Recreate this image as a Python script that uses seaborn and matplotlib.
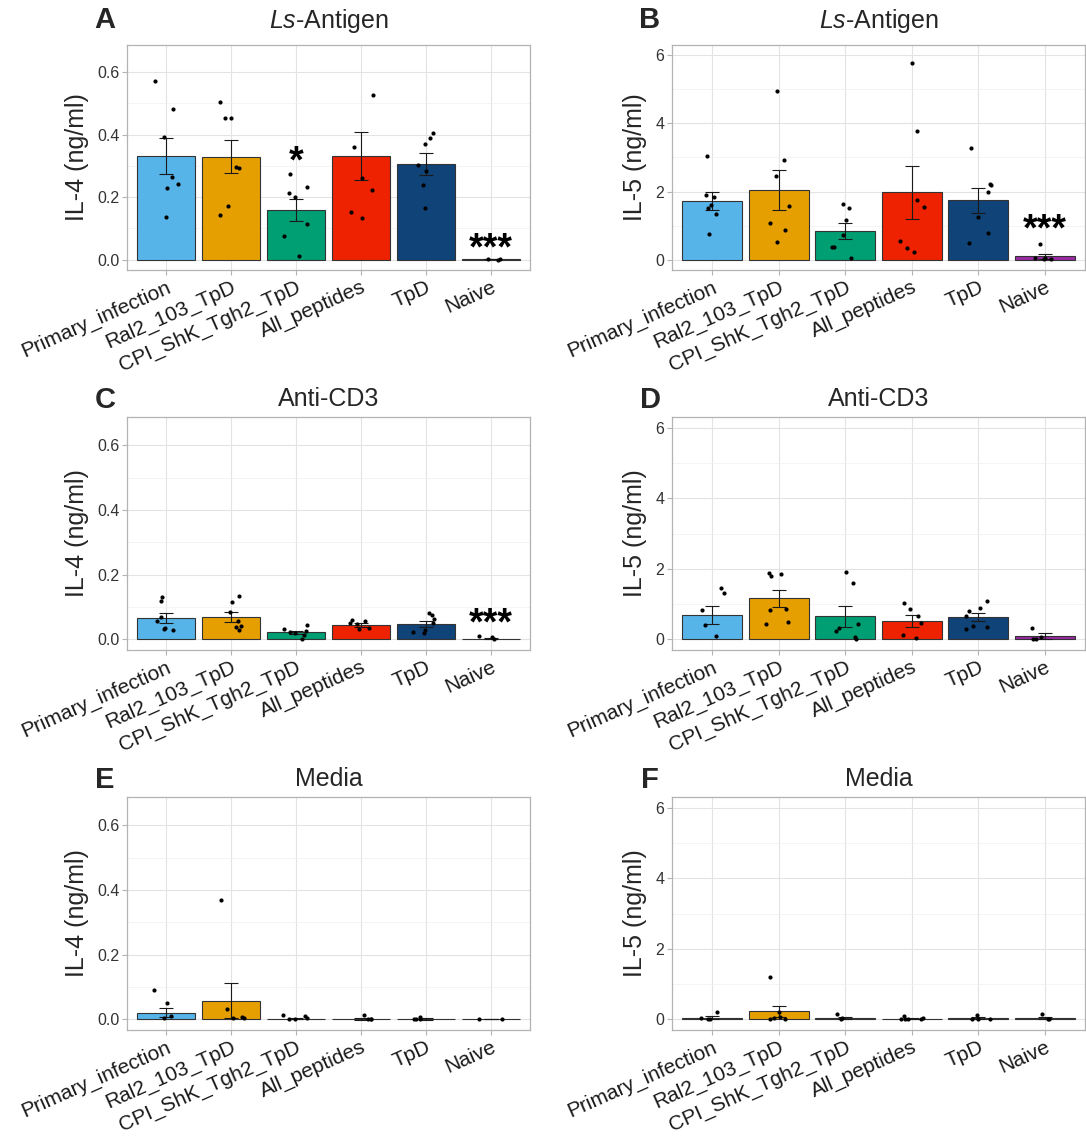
import numpy as np
import pandas as pd
import matplotlib
matplotlib.use("Agg")
import matplotlib.pyplot as plt
import matplotlib.transforms as mtransforms
import seaborn as sns
from matplotlib.ticker import MultipleLocator

# ---------------- data ----------------
groups = ["Primary_infection", "Ral2_103_TpD", "CPI_ShK_Tgh2_TpD",
          "All_peptides", "TpD", "Naive"]
colors = ["#56B4E9", "#E69F00", "#009E73", "#EE2200", "#104377", "#9B2AA6"]

# IL-4, Ls-Antigen
il4_lsag_mean = [0.332, 0.330, 0.159, 0.332, 0.306, 0.002]
il4_lsag_se = [0.058, 0.054, 0.036, 0.077, 0.034, 0.001]
il4_lsag_pts = [
    [0.571, 0.482, 0.394, 0.264, 0.243, 0.229, 0.138],
    [0.505, 0.454, 0.452, 0.298, 0.295, 0.172, 0.144],
    [0.273, 0.232, 0.213, 0.200, 0.114, 0.077, 0.012],
    [0.526, 0.361, 0.263, 0.224, 0.152, 0.134],
    [0.404, 0.390, 0.371, 0.303, 0.285, 0.238, 0.164],
    [0.002, 0.001, 0.000],
]
il4_lsag_stars = ["", "", "*", "", "", "***"]
il4_lsag_star_y = [0, 0, 0.345, 0, 0, 0.069]

# IL-5, Ls-Antigen
il5_lsag_mean = [1.72, 2.04, 0.84, 1.98, 1.74, 0.10]
il5_lsag_se = [0.26, 0.585, 0.235, 0.78, 0.36, 0.065]
il5_lsag_pts = [
    [3.04, 1.85, 1.90, 1.61, 1.51, 1.33, 0.76],
    [4.95, 2.93, 2.46, 1.57, 1.07, 0.87, 0.51],
    [1.64, 1.51, 1.17, 0.74, 0.38, 0.38, 0.06],
    [5.77, 3.78, 1.55, 1.75, 0.55, 0.34, 0.22],
    [3.27, 2.19, 2.21, 1.98, 1.24, 0.79, 0.50],
    [0.46, 0.03, 0.03, 0.05, 0.05],
]
il5_lsag_stars = ["", "", "", "", "", "***"]
il5_lsag_star_y = [0, 0, 0, 0, 0, 1.17]

# IL-4, Anti-CD3
il4_cd3_mean = [0.066, 0.069, 0.022, 0.045, 0.047, 0.002]
il4_cd3_se = [0.016, 0.015, 0.005, 0.006, 0.009, 0.001]
il4_cd3_pts = [
    [0.130, 0.117, 0.068, 0.057, 0.032, 0.034, 0.030],
    [0.134, 0.114, 0.083, 0.058, 0.040, 0.037, 0.030],
    [0.044, 0.033, 0.027, 0.023, 0.021, 0.012, 0.002],
    [0.060, 0.058, 0.050, 0.047, 0.036, 0.031],
    [0.082, 0.075, 0.064, 0.051, 0.023, 0.020, 0.028],
    [0.011, 0.008, 0.001],
]
il4_cd3_stars = ["", "", "", "", "", "***"]
il4_cd3_star_y = [0, 0, 0, 0, 0, 0.079]

# IL-5, Anti-CD3
il5_cd3_mean = [0.69, 1.16, 0.65, 0.53, 0.63, 0.10]
il5_cd3_se = [0.255, 0.25, 0.30, 0.165, 0.12, 0.085]
il5_cd3_pts = [
    [1.46, 1.32, 0.84, 0.42, 0.11],
    [1.88, 1.81, 1.85, 0.83, 0.86, 0.50, 0.43],
    [1.90, 1.61, 0.45, 0.31, 0.24, 0.07, 0.01],
    [1.03, 0.86, 0.65, 0.47, 0.13, 0.04],
    [1.09, 0.88, 0.80, 0.65, 0.38, 0.34, 0.30],
    [0.33, 0.08, 0.00, 0.02],
]
il5_cd3_stars = ["", "", "", "", "", ""]
il5_cd3_star_y = [0, 0, 0, 0, 0, 0]

# IL-4, Media
il4_media_mean = [0.021, 0.058, 0.002, 0.001, 0.001, 0.0005]
il4_media_se = [0.013, 0.053, 0.002, 0.002, 0.002, 0.001]
il4_media_pts = [
    [0.090, 0.050, 0.010, 0.003],
    [0.369, 0.033, 0.003, 0.007, 0.003],
    [0.002, 0.012, 0.011, 0.003, 0.002],
    [0.000, 0.002, 0.013, 0.000],
    [0.002, 0.001, 0.007, 0.000],
    [0.002, 0.002],
]
il4_media_stars = ["", "", "", "", "", ""]
il4_media_star_y = [0, 0, 0, 0, 0, 0]

# IL-5, Media
il5_media_mean = [0.05, 0.23, 0.04, 0.02, 0.04, 0.03]
il5_media_se = [0.035, 0.16, 0.02, 0.015, 0.02, 0.03]
il5_media_pts = [
    [0.22, 0.05, 0.00, 0.01],
    [1.20, 0.22, 0.08, 0.03, 0.00, 0.00],
    [0.16, 0.00, 0.03],
    [0.085, 0.05, 0.00, 0.00, 0.00, 0.00],
    [0.13, 0.00, 0.02, 0.00],
    [0.15, 0.00, 0.00],
]
il5_media_stars = ["", "", "", "", "", ""]
il5_media_star_y = [0, 0, 0, 0, 0, 0]

# ---------------- style ----------------
sns.set_theme(style="white")
plt.rcParams["font.family"] = ["Liberation Sans", "DejaVu Sans"]
plt.rcParams["mathtext.fontset"] = "custom"
plt.rcParams["mathtext.it"] = "Liberation Sans:italic"
plt.rcParams["mathtext.rm"] = "Liberation Sans"

W, H = 1086, 1138
fig = plt.figure(figsize=(W / 100, H / 100), dpi=100)


def add_ax(left, right, top, bottom):
    return fig.add_axes([left / W, 1 - bottom / H, (right - left) / W, (bottom - top) / H])


# (letter, title, ylabel, means, ses, points, stars, star_y, axes box px, kind, letter_y, title_pad)
panels = [
    ("A", r"$\it{Ls}$-Antigen", "IL-4 (ng/ml)", il4_lsag_mean, il4_lsag_se, il4_lsag_pts,
     il4_lsag_stars, il4_lsag_star_y, (127, 530, 45, 270), "il4", 20, 12.5),
    ("B", r"$\it{Ls}$-Antigen", "IL-5 (ng/ml)", il5_lsag_mean, il5_lsag_se, il5_lsag_pts,
     il5_lsag_stars, il5_lsag_star_y, (672, 1085, 45, 270), "il5", 20, 12.5),
    ("C", "Anti-CD3", "IL-4 (ng/ml)", il4_cd3_mean, il4_cd3_se, il4_cd3_pts,
     il4_cd3_stars, il4_cd3_star_y, (127, 530, 417, 650), "il4", 400, 8),
    ("D", "Anti-CD3", "IL-5 (ng/ml)", il5_cd3_mean, il5_cd3_se, il5_cd3_pts,
     il5_cd3_stars, il5_cd3_star_y, (672, 1085, 417, 650), "il5", 400, 8),
    ("E", "Media", "IL-4 (ng/ml)", il4_media_mean, il4_media_se, il4_media_pts,
     il4_media_stars, il4_media_star_y, (127, 530, 797, 1030), "il4", 780, 8),
    ("F", "Media", "IL-5 (ng/ml)", il5_media_mean, il5_media_se, il5_media_pts,
     il5_media_stars, il5_media_star_y, (672, 1085, 797, 1030), "il5", 780, 8),
]

np.random.seed(7)
for (letter, title, ylab, means, ses, pts, stars, star_y, box, kind,
     letter_y, tpad) in panels:
    ax = add_ax(*box)
    bar_df = pd.DataFrame({"group": groups, "mean": means})
    sns.barplot(data=bar_df, x="group", y="mean", hue="group", order=groups,
                hue_order=groups, palette=colors, saturation=1, width=0.9,
                edgecolor="#333333", linewidth=0.8, errorbar=None, legend=False,
                ax=ax, zorder=2)
    ax.errorbar(np.arange(len(groups)), means, yerr=ses, fmt="none",
                ecolor="#1a1a1a", elinewidth=0.8, capsize=4.7, capthick=0.8, zorder=3)
    pt_df = pd.DataFrame([(g, v) for g, vals in zip(groups, pts) for v in vals],
                         columns=["group", "value"])
    sns.stripplot(data=pt_df, x="group", y="value", order=groups, color="black",
                  size=3.0, jitter=0.2, linewidth=0, ax=ax, zorder=4)
    star_tr = mtransforms.offset_copy(ax.transData, fig=fig, x=0, y=-11, units="dots")
    for i, (s, yv) in enumerate(zip(stars, star_y)):
        if s:
            ax.text(i, yv, s, ha="center", va="center", fontsize=27,
                    fontweight="bold", color="black", zorder=5, transform=star_tr)

    ax.set_xlim(-0.6, 5.6)
    if kind == "il4":
        ax.set_ylim(-0.033, 0.687)
        ax.yaxis.set_major_locator(MultipleLocator(0.2))
        ax.yaxis.set_minor_locator(MultipleLocator(0.1))
    else:
        ax.set_ylim(-0.3, 6.3)
        ax.yaxis.set_major_locator(MultipleLocator(2))
        ax.yaxis.set_minor_locator(MultipleLocator(1))

    ax.set_axisbelow(True)
    ax.grid(axis="y", which="major", color="#E3E3E3", lw=0.8)
    ax.grid(axis="y", which="minor", color="#F0F0F0", lw=0.5)
    ax.grid(axis="x", which="major", color="#E3E3E3", lw=0.8)
    for sp in ax.spines.values():
        sp.set_visible(True)
        sp.set_color("#B3B3B3")
        sp.set_linewidth(0.9)
    ax.tick_params(axis="both", which="major", length=3.5, width=0.8,
                   color="#B3B3B3", direction="out", bottom=True, left=True)
    ax.tick_params(axis="y", which="minor", length=0)
    ax.tick_params(axis="y", labelsize=11.5, labelcolor="#333333", pad=2)
    ax.tick_params(axis="x", labelsize=15, labelcolor="#1a1a1a", pad=2)
    ax.set_xticks(range(len(groups)))
    ax.set_xticklabels(groups, rotation=24, ha="right", va="top",
                       rotation_mode="anchor")
    ax.set_xlabel("")
    ax.set_ylabel(ylab, fontsize=18, labelpad=6)
    ax.set_title(title, fontsize=18, pad=tpad)

    left = box[0]
    fig.text((left - 22) / W, 1 - letter_y / H, letter, fontsize=21,
             fontweight="bold", ha="center", va="center")

fig.savefig("out.png", dpi=100)
